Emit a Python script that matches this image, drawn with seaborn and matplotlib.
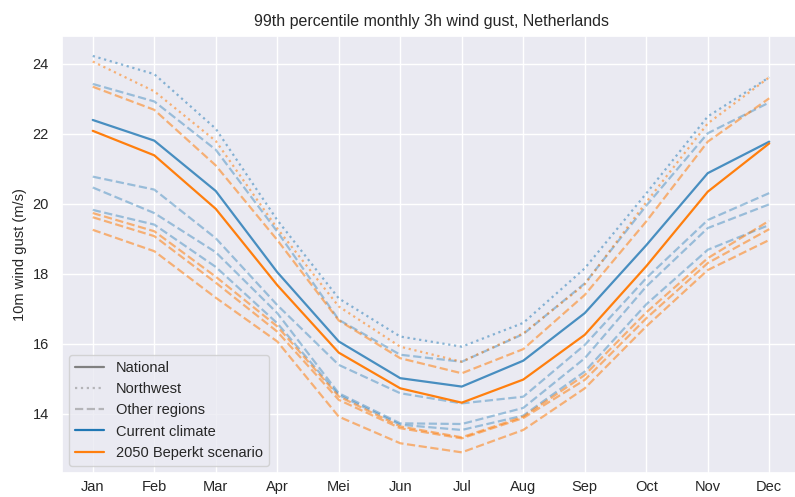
import matplotlib
matplotlib.use("Agg")
import matplotlib.pyplot as plt
import seaborn as sns
import pandas as pd
from matplotlib.lines import Line2D

months = ['Jan', 'Feb', 'Mar', 'Apr', 'Mei', 'Jun', 'Jul', 'Aug', 'Sep', 'Oct', 'Nov', 'Dec']

# Current climate
national_cur = [22.40, 21.81, 20.37, 18.05, 16.07, 15.02, 14.78, 15.52, 16.88, 18.82, 20.88, 21.78]
northwest_cur = [24.23, 23.71, 22.15, 19.54, 17.30, 16.21, 15.92, 16.60, 18.16, 20.30, 22.50, 23.62]
other_cur_a = [23.43, 22.93, 21.55, 19.21, 16.69, 15.69, 15.49, 16.28, 17.73, 19.95, 22.02, 22.90]
other_cur_b = [20.78, 20.41, 19.02, 17.11, 15.40, 14.59, 14.30, 14.49, 15.97, 17.88, 19.54, 20.31]
other_cur_c = [20.47, 19.74, 18.62, 16.88, 14.59, 13.73, 13.71, 14.17, 15.59, 17.64, 19.31, 19.99]
other_cur_d = [19.83, 19.41, 18.20, 16.59, 14.54, 13.69, 13.54, 13.95, 15.21, 17.13, 18.69, 19.40]

# 2050 Beperkt scenario
national_fut = [22.09, 21.39, 19.86, 17.68, 15.75, 14.73, 14.32, 14.98, 16.26, 18.22, 20.35, 21.73]
northwest_fut = [24.07, 23.22, 21.80, 19.30, 17.07, 15.92, 15.49, 16.30, 17.70, 20.05, 22.30, 23.62]
other_fut_a = [23.35, 22.69, 21.10, 18.97, 16.67, 15.59, 15.16, 15.85, 17.40, 19.50, 21.78, 23.02]
other_fut_b = [19.74, 19.22, 17.92, 16.50, 14.50, 13.64, 13.33, 13.92, 15.11, 16.90, 18.45, 19.52]
other_fut_c = [19.62, 19.08, 17.75, 16.35, 14.40, 13.59, 13.30, 13.88, 14.97, 16.73, 18.31, 19.28]
other_fut_d = [19.26, 18.65, 17.32, 16.07, 13.92, 13.16, 12.90, 13.54, 14.73, 16.50, 18.11, 18.97]

sns.set_theme(style="darkgrid")
plt.rcParams['font.family'] = ['Liberation Sans', 'DejaVu Sans']

fig = plt.figure(figsize=(7.95, 4.97), dpi=100)
ax = fig.add_axes([62 / 795, 24 / 497, 738 / 795, 437 / 497])

BLUE = '#1f77b4'
ORANGE = '#ff7f0e'
x = list(range(len(months)))

series = [
    (other_cur_a, BLUE, '--', 0.4), (other_cur_b, BLUE, '--', 0.4),
    (other_cur_c, BLUE, '--', 0.4), (other_cur_d, BLUE, '--', 0.4),
    (other_fut_a, ORANGE, '--', 0.55), (other_fut_b, ORANGE, '--', 0.55),
    (other_fut_c, ORANGE, '--', 0.55), (other_fut_d, ORANGE, '--', 0.55),
    (northwest_cur, BLUE, ':', 0.5), (northwest_fut, ORANGE, ':', 0.55),
    (national_cur, BLUE, '-', 0.8), (national_fut, ORANGE, '-', 1.0),
]
for vals, col, ls, a in series:
    df = pd.DataFrame({'month': x, 'value': vals})
    sns.lineplot(data=df, x='month', y='value', ax=ax, color=col,
                 linestyle=ls, alpha=a, linewidth=1.6)

ax.set_xlim(-0.5, 11.5)
ax.set_ylim(12.31, 24.8)
ax.set_xticks(x)
ax.set_xticklabels(months)
ax.set_yticks([14, 16, 18, 20, 22, 24])
ax.tick_params(labelsize=10.5)
ax.tick_params(axis='x', length=0, pad=5)
ax.set_xlabel('')
ax.set_ylabel('10m wind gust (m/s)', fontsize=10.5)
ax.set_title('99th percentile monthly 3h wind gust, Netherlands', fontsize=11.5, pad=7)

handles = [
    Line2D([], [], color='gray', linestyle='-', linewidth=1.6),
    Line2D([], [], color='gray', linestyle=':', alpha=0.5, linewidth=1.6),
    Line2D([], [], color='gray', linestyle='--', alpha=0.5, linewidth=1.6),
    Line2D([], [], color=BLUE, linestyle='-', linewidth=1.6),
    Line2D([], [], color=ORANGE, linestyle='-', linewidth=1.6),
]
labels = ['National', 'Northwest', 'Other regions', 'Current climate', '2050 Beperkt scenario']
ax.legend(handles, labels, loc='lower left', fontsize=10.5)

fig.savefig('out.png', dpi=100)
